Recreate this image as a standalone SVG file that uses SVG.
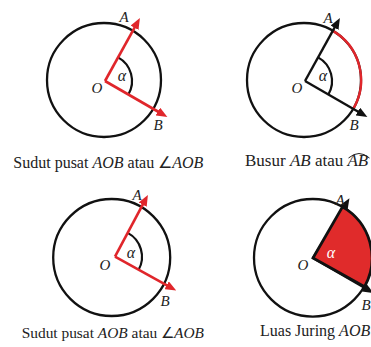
<svg xmlns="http://www.w3.org/2000/svg" width="371" height="347" viewBox="0 0 371 347">
<style>
.c{fill:none;stroke:#111;stroke-width:2.3}
.ang{fill:none;stroke:#111;stroke-width:2.2}
.lr{stroke:#e0262b;stroke-width:2.6;fill:none}
.lb{stroke:#111;stroke-width:2.4;fill:none}
.lab{font-family:"Liberation Serif","Times New Roman",serif;font-style:italic;font-size:15px;fill:#222;text-anchor:middle}
.al{font-family:"Liberation Serif","Times New Roman",serif;font-style:italic;font-size:16px;fill:#222;text-anchor:middle}
.cap{font-family:"Liberation Serif","Times New Roman",serif;font-size:16px;fill:#222}
.it{font-style:italic}
</style>
<defs>
<marker id="ar" markerUnits="userSpaceOnUse" viewBox="0 0 11 9" markerWidth="11" markerHeight="9" refX="4" refY="4.5" orient="auto"><path d="M0,0 L11,4.5 L0,9 z" fill="#e0262b"/></marker>
<marker id="ab" markerUnits="userSpaceOnUse" viewBox="0 0 11 9" markerWidth="11" markerHeight="9" refX="4" refY="4.5" orient="auto"><path d="M0,0 L11,4.5 L0,9 z" fill="#111"/></marker>
</defs>

<g id="panel1">
<circle class="c" cx="104" cy="80" r="57"/>
<path class="ang" d="M118.1,57.4 A27,27 0 0 1 128.4,94.5"/>
<g id="connectors1">
<line class="lr" x1="105" y1="81" x2="136.5" y2="24.2" marker-end="url(#ar)"/>
<line class="lr" x1="105" y1="81" x2="161.3" y2="113.5" marker-end="url(#ar)"/>
</g>
<text class="lab" x="124" y="21.7">A</text>
<text class="lab" x="158" y="130">B</text>
<text class="lab" x="97" y="93">O</text>
<text class="al" x="122" y="81">α</text>
<text class="cap" x="13.3" y="168">Sudut pusat <tspan class="it">AOB</tspan> atau ∠<tspan class="it">AOB</tspan></text>
</g>

<g id="panel2">
<circle class="c" cx="304" cy="80" r="57"/>
<path d="M332.5,30.6 A57,57 0 0 1 352.9,109.4" fill="none" stroke="#e0262b" stroke-width="2.4"/>
<path class="ang" d="M318.1,57.4 A27,27 0 0 1 328.4,94.5"/>
<g id="connectors2">
<line class="lb" x1="305" y1="81" x2="336.5" y2="24.2" marker-end="url(#ab)"/>
<line class="lb" x1="305" y1="81" x2="361.3" y2="113.5" marker-end="url(#ab)"/>
</g>
<text class="lab" x="328" y="23">A</text>
<text class="lab" x="354" y="130">B</text>
<text class="lab" x="297" y="93">O</text>
<text class="al" x="323" y="81">α</text>
<text class="cap" x="245" y="165.7" style="font-size:17px">Busur <tspan class="it">AB</tspan> atau <tspan class="it">AB</tspan></text>
<path d="M348.5,158 Q359,149 369.5,158" fill="none" stroke="#222" stroke-width="1"/>
</g>

<g id="panel3">
<circle class="c" cx="111.7" cy="257.5" r="58.5"/>
<path class="ang" d="M127.7,232.9 A27,27 0 0 1 138.6,269.8"/>
<g id="connectors3">
<line class="lr" x1="115" y1="256.7" x2="144.6" y2="201.1" marker-end="url(#ar)"/>
<line class="lr" x1="115" y1="256.7" x2="170.1" y2="287.2" marker-end="url(#ar)"/>
</g>
<text class="lab" x="137" y="200">A</text>
<text class="lab" x="165" y="306">B</text>
<text class="lab" x="105" y="270">O</text>
<text class="al" x="131" y="258">α</text>
<text class="cap" x="21.7" y="338" style="font-size:15.4px">Sudut pusat <tspan class="it">AOB</tspan> atau ∠<tspan class="it">AOB</tspan></text>
</g>

<g id="panel4">
<circle class="c" cx="312.8" cy="257.8" r="58.8"/>
<g id="connectors4">
<line class="lb" x1="313" y1="258" x2="345.8" y2="204.2" marker-end="url(#ab)"/>
<line class="lb" x1="313" y1="258" x2="367.5" y2="289.5" marker-end="url(#ab)"/>
</g>
<path d="M313,258 L342.5,206.9 A59,59 0 0 1 364.6,286.6 Z" fill="#e02b2b" stroke="#111" stroke-width="2.8" stroke-linejoin="miter"/>
<text class="lab" x="340" y="205">A</text>
<text class="lab" x="366" y="310">B</text>
<text class="lab" x="303" y="270">O</text>
<text class="al" x="331" y="257.5" style="fill:#fff">α</text>
<text class="cap" x="260" y="336">Luas Juring <tspan class="it">AOB</tspan></text>
</g>
</svg>
